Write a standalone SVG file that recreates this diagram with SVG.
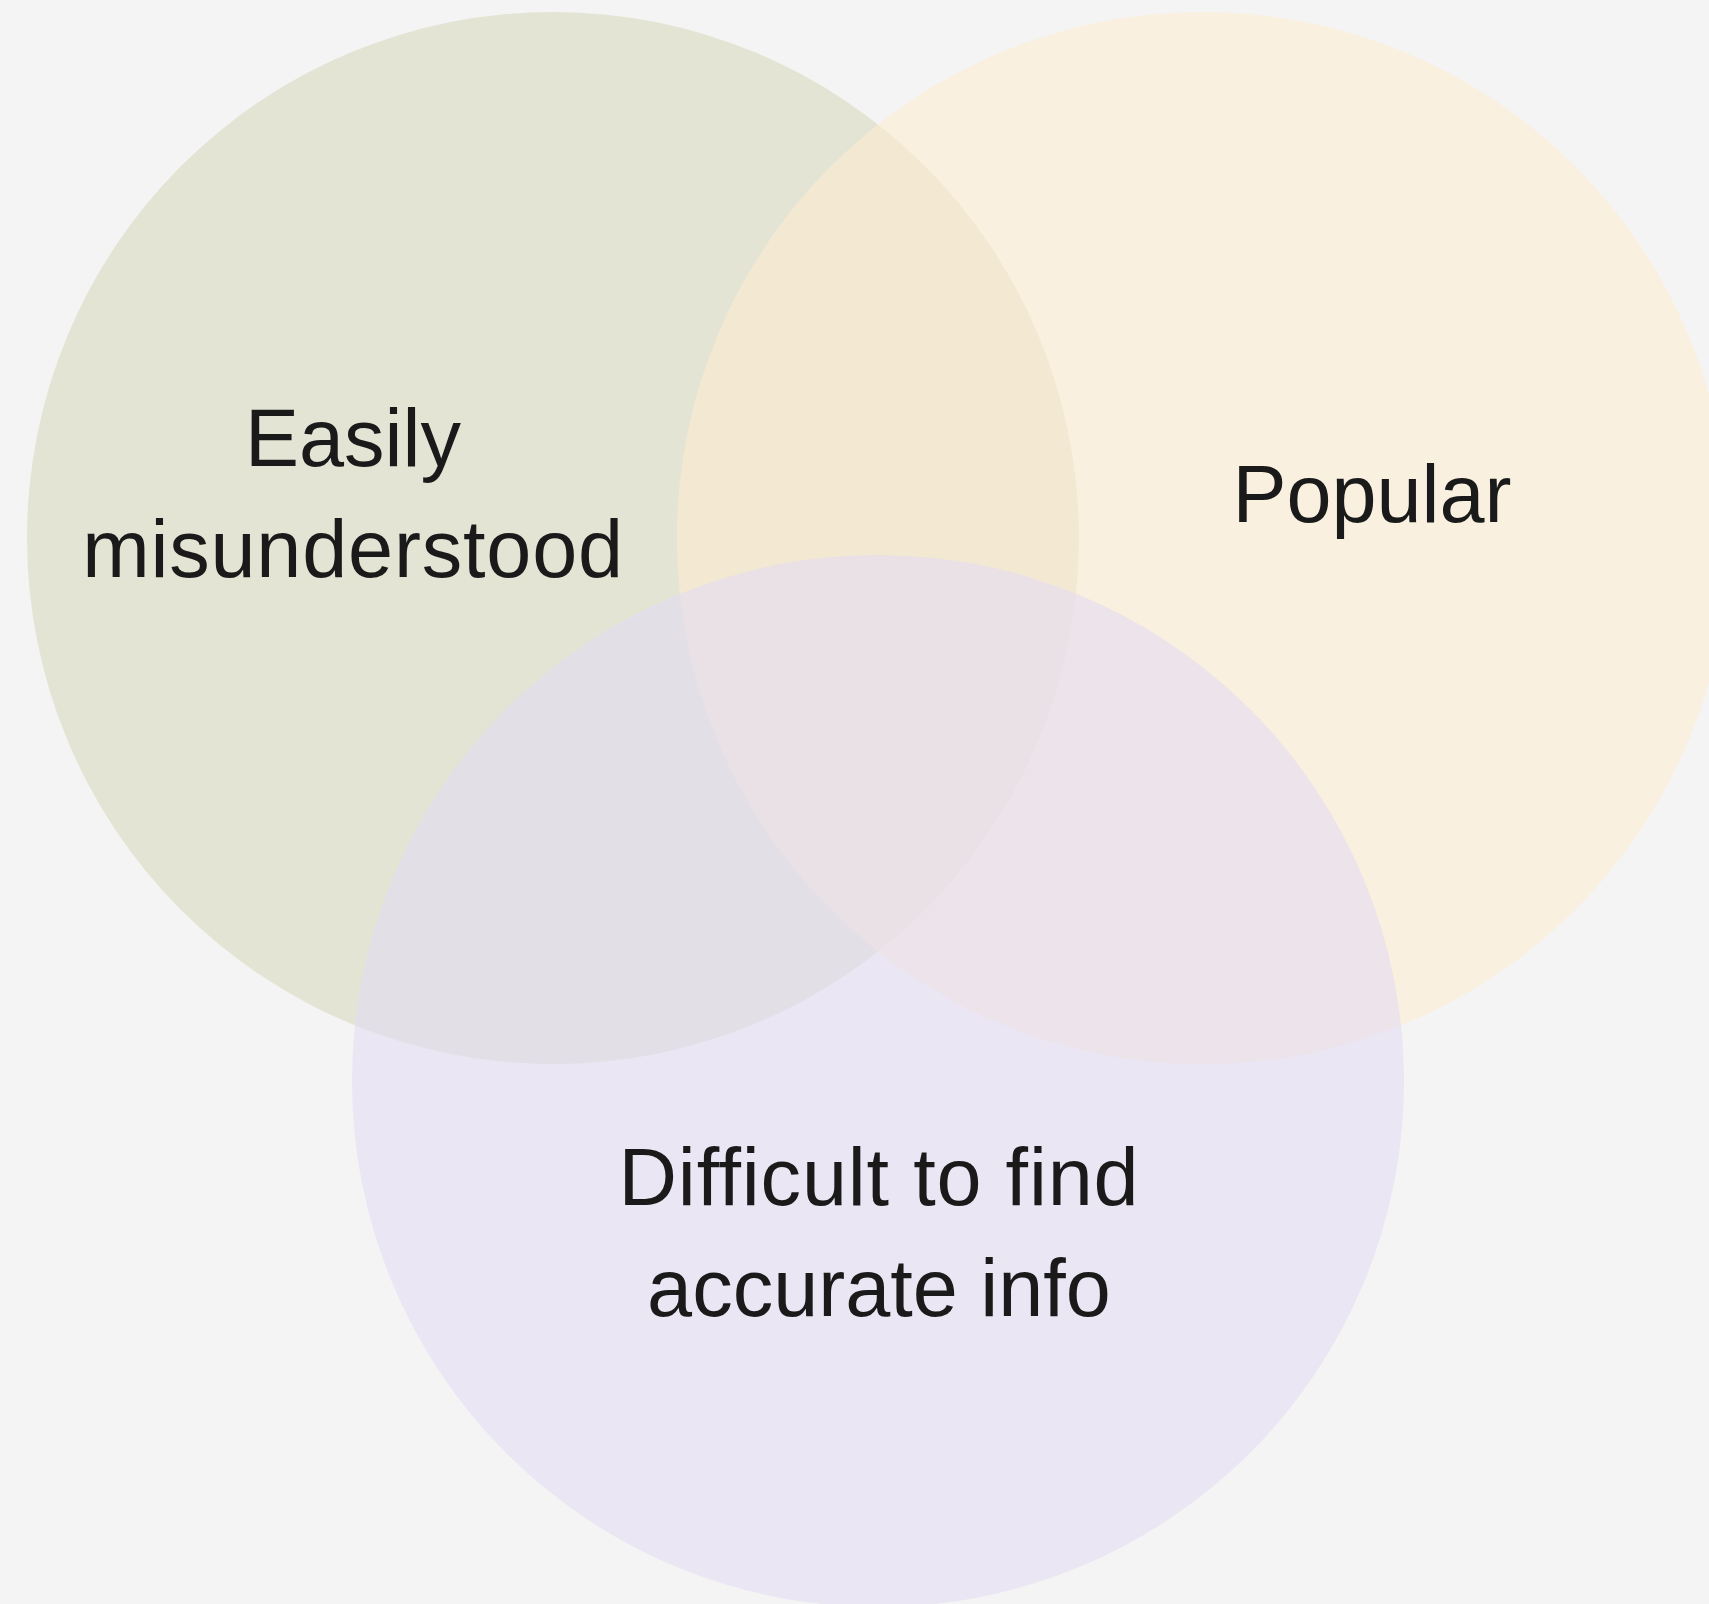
<svg xmlns="http://www.w3.org/2000/svg" width="1709" height="1604" viewBox="0 0 1709 1604">
<style>
.set { fill-opacity: 0.6; }
.lbl { font-family: "Liberation Sans", Arial, sans-serif; font-size: 81px; fill: #1a1a1a; text-anchor: middle; }
.wide { letter-spacing: 0.8px; }
</style>
<rect x="0" y="0" width="1709" height="1604" fill="#f4f4f4"/>
<g id="set-easily-misunderstood">
<circle class="set" cx="553" cy="538" r="526" fill="#d8d9bf"/>
</g>
<g id="set-popular">
<circle class="set" cx="1203" cy="538" r="526" fill="#fdecd0"/>
</g>
<g id="set-difficult">
<circle class="set" cx="878" cy="1081" r="526" fill="#e2dcf2"/>
</g>
<g id="connectors"></g>
<g id="labels">
<text class="lbl" x="353" y="466">Easily</text>
<text class="lbl wide" x="353" y="577">misunderstood</text>
<text class="lbl" x="1372" y="522">Popular</text>
<text class="lbl wide" x="879" y="1205">Difficult to find</text>
<text class="lbl" x="879" y="1316">accurate info</text>
</g>
</svg>
